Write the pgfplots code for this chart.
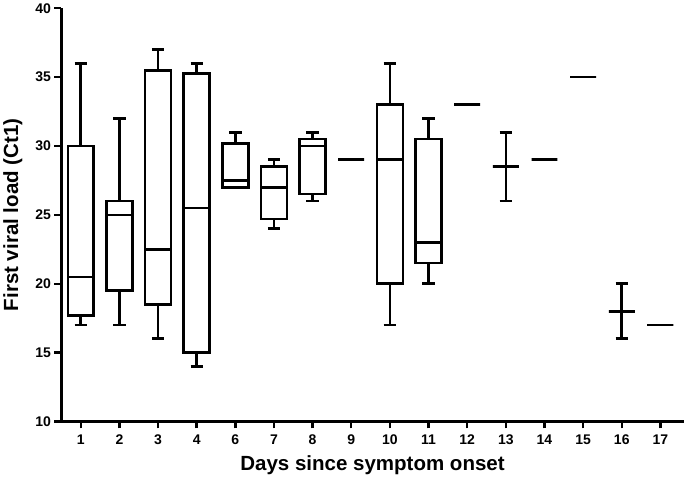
\documentclass[border=0pt]{standalone}
\usepackage{pgfplots}
\pgfplotsset{compat=1.18}
\usepgfplotslibrary{statistics}
\usepackage{fontspec}
\setmainfont{Liberation Sans}
\begin{document}
\begin{tikzpicture}
\begin{axis}[
  scale only axis, width=622pt, height=413pt,
  xmin=-0.5, xmax=15.6, ymin=10, ymax=40,
  axis x line=bottom, axis y line=left,
  axis line style={-, line width=2.8pt, black},
  xtick={0,...,15},
  xticklabels={1,2,3,4,6,7,8,9,10,11,12,13,14,15,16,17},
  ytick={10,15,...,40},
  tick style={line width=2.4pt, black},
  major tick length=7pt,
  tick align=outside,
  ticklabel style={font=\fontsize{14}{14}\selectfont\bfseries},
  xticklabel style={yshift=-2.5pt},
  /pgf/number format/assume math mode=true,
  xlabel={Days since symptom onset},
  ylabel={First viral load (Ct1)},
  label style={font=\fontsize{20.5}{22}\selectfont\bfseries},
  xlabel style={yshift=-4.5pt},
  ylabel style={yshift=6pt},
  boxplot/draw direction=y,
  boxplot/box extend=0.67,
  boxplot/whisker extend=0.32,
  clip=false,
]
\pgfplotsset{every axis plot/.append style={black, solid, line width=2.6pt}}
% day 1
\addplot[boxplot prepared={draw position=0, lower whisker=17, lower quartile=17.7, median=20.5, upper quartile=30, upper whisker=36}] coordinates {};
% day 2
\addplot[boxplot prepared={draw position=1, lower whisker=17, lower quartile=19.5, median=25, upper quartile=26, upper whisker=32}] coordinates {};
% day 3
\addplot[boxplot prepared={draw position=2, lower whisker=16, lower quartile=18.5, median=22.5, upper quartile=35.5, upper whisker=37}] coordinates {};
% day 4
\addplot[boxplot prepared={draw position=3, lower whisker=14, lower quartile=15, median=25.5, upper quartile=35.25, upper whisker=36}] coordinates {};
% day 6
\addplot[boxplot prepared={draw position=4, lower whisker=27, lower quartile=27, median=27.5, upper quartile=30.2, upper whisker=31}] coordinates {};
% day 7
\addplot[boxplot prepared={draw position=5, lower whisker=24, lower quartile=24.7, median=27, upper quartile=28.5, upper whisker=29}] coordinates {};
% day 8
\addplot[boxplot prepared={draw position=6, lower whisker=26, lower quartile=26.5, median=30, upper quartile=30.5, upper whisker=31}] coordinates {};
% day 9
\addplot[boxplot prepared={draw position=7, lower whisker=29, lower quartile=29, median=29, upper quartile=29, upper whisker=29}] coordinates {};
% day 10
\addplot[boxplot prepared={draw position=8, lower whisker=17, lower quartile=20, median=29, upper quartile=33, upper whisker=36}] coordinates {};
% day 11
\addplot[boxplot prepared={draw position=9, lower whisker=20, lower quartile=21.5, median=23, upper quartile=30.5, upper whisker=32}] coordinates {};
% day 12
\addplot[boxplot prepared={draw position=10, lower whisker=33, lower quartile=33, median=33, upper quartile=33, upper whisker=33}] coordinates {};
% day 13
\addplot[boxplot prepared={draw position=11, lower whisker=26, lower quartile=28.5, median=28.5, upper quartile=28.5, upper whisker=31}] coordinates {};
% day 14
\addplot[boxplot prepared={draw position=12, lower whisker=29, lower quartile=29, median=29, upper quartile=29, upper whisker=29}] coordinates {};
% day 15
\addplot[boxplot prepared={draw position=13, lower whisker=35, lower quartile=35, median=35, upper quartile=35, upper whisker=35}] coordinates {};
% day 16
\addplot[boxplot prepared={draw position=14, lower whisker=16, lower quartile=18, median=18, upper quartile=18, upper whisker=20}] coordinates {};
% day 17
\addplot[boxplot prepared={draw position=15, lower whisker=17, lower quartile=17, median=17, upper quartile=17, upper whisker=17}] coordinates {};
\end{axis}
\end{tikzpicture}
\end{document}
